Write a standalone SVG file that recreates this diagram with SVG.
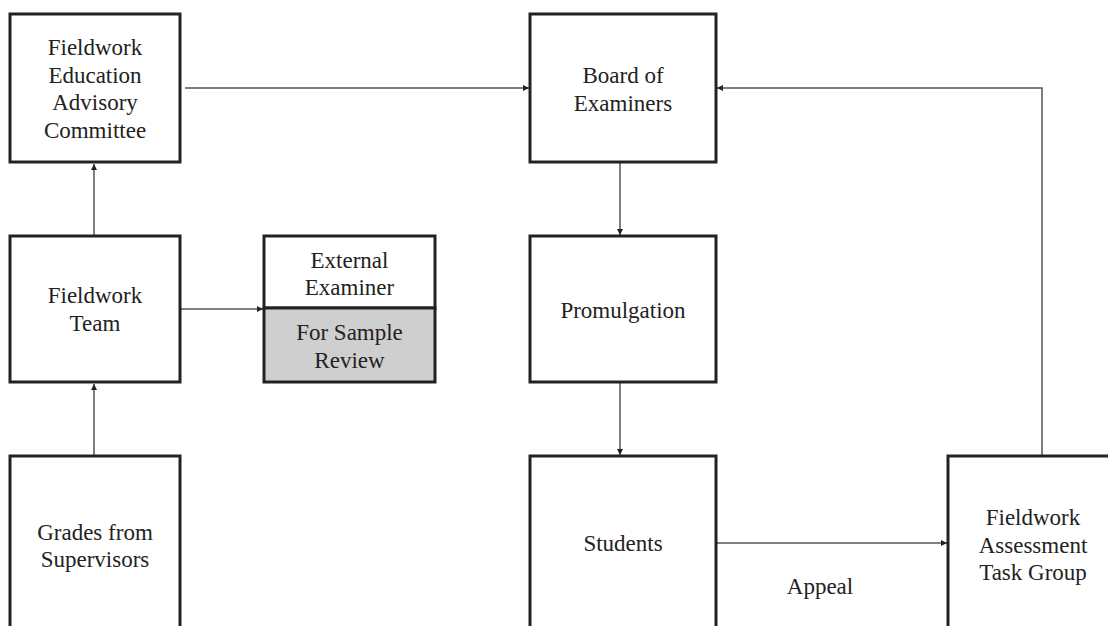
<svg xmlns="http://www.w3.org/2000/svg" width="1108" height="626" viewBox="0 0 1108 626">
<style>
.box{fill:#ffffff;stroke:#222222;stroke-width:3}
.shade{fill:#d0cfd0;stroke:#222222;stroke-width:3}
.t{font-family:"Liberation Serif","Times New Roman",serif;font-size:23px;fill:#222222;text-anchor:middle}
.c{fill:none;stroke:#555555;stroke-width:1.5}
</style>
<defs>
<marker id="ah" viewBox="0 0 10 10" refX="10" refY="5" markerWidth="6" markerHeight="6" markerUnits="userSpaceOnUse" orient="auto">
<path d="M0,0 L10,5 L0,10 z" fill="#222222"/>
</marker>
</defs>
<rect x="0" y="0" width="1108" height="626" fill="#ffffff"/>
<g id="connectors">
<line class="c" x1="185" y1="88" x2="529" y2="88" marker-end="url(#ah)"/>
<line class="c" x1="94" y1="235" x2="94" y2="164" marker-end="url(#ah)"/>
<line class="c" x1="94" y1="455" x2="94" y2="384" marker-end="url(#ah)"/>
<line class="c" x1="181" y1="309" x2="263" y2="309" marker-end="url(#ah)"/>
<line class="c" x1="620" y1="163" x2="620" y2="235" marker-end="url(#ah)"/>
<line class="c" x1="620" y1="383" x2="620" y2="455" marker-end="url(#ah)"/>
<line class="c" x1="717" y1="543" x2="947" y2="543" marker-end="url(#ah)"/>
<polyline class="c" points="1042,455 1042,88 717,88" marker-end="url(#ah)"/>
</g>
<g id="feac">
<rect class="box" x="10" y="14" width="170" height="148"/>
<text class="t" x="95" y="55">Fieldwork</text>
<text class="t" x="95" y="83">Education</text>
<text class="t" x="95" y="110">Advisory</text>
<text class="t" x="95" y="138">Committee</text>
</g>
<g id="team">
<rect class="box" x="10" y="236" width="170" height="146"/>
<text class="t" x="95" y="303">Fieldwork</text>
<text class="t" x="95" y="331">Team</text>
</g>
<g id="grades">
<rect class="box" x="10" y="456" width="170" height="190"/>
<text class="t" x="95" y="540">Grades from</text>
<text class="t" x="95" y="567">Supervisors</text>
</g>
<g id="external">
<rect class="box" x="264" y="236" width="171" height="72"/>
<rect class="shade" x="264" y="308" width="171" height="74"/>
<text class="t" x="349.500" y="268">External</text>
<text class="t" x="349.500" y="295">Examiner</text>
<text class="t" x="349.500" y="340">For Sample</text>
<text class="t" x="349.500" y="368">Review</text>
</g>
<g id="board">
<rect class="box" x="530" y="14" width="186" height="148"/>
<text class="t" x="623" y="83">Board of</text>
<text class="t" x="623" y="111">Examiners</text>
</g>
<g id="promulgation">
<rect class="box" x="530" y="236" width="186" height="146"/>
<text class="t" x="623" y="318">Promulgation</text>
</g>
<g id="students">
<rect class="box" x="530" y="456" width="186" height="190"/>
<text class="t" x="623" y="551">Students</text>
</g>
<g id="fatg">
<rect class="box" x="948" y="456" width="172" height="190"/>
<text class="t" x="1033" y="525">Fieldwork</text>
<text class="t" x="1033" y="553">Assessment</text>
<text class="t" x="1033" y="580">Task Group</text>
</g>
<g id="appeal-label">
<text class="t" x="820" y="594">Appeal</text>
</g>
</svg>
